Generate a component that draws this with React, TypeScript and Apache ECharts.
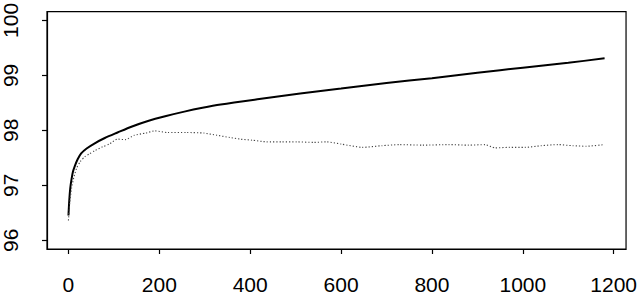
import React, { useEffect, useRef } from "react";
import * as echarts from "echarts";

const solidX = [0, 2, 4, 7, 10, 14, 20, 28, 40, 57, 80, 108, 140, 175, 215, 255, 295, 335, 420, 510, 600, 700, 800, 900, 1000, 1100, 1180];
const solidY = [96.45, 96.75, 96.95, 97.12, 97.25, 97.35, 97.47, 97.58, 97.67, 97.76, 97.86, 97.96, 98.07, 98.17, 98.26, 98.34, 98.41, 98.47, 98.57, 98.67, 98.76, 98.86, 98.95, 99.05, 99.14, 99.23, 99.31];

const dotX = [0, 3, 7, 12, 18, 26, 36, 46, 58, 75, 90, 108, 125, 145, 170, 190, 218, 260, 298, 327, 355, 378, 405, 436, 470, 502, 540, 567, 600, 647, 690, 728, 780, 837, 880, 917, 939, 970, 1005, 1040, 1077, 1110, 1140, 1179];
const dotY = [96.36, 96.7, 96.95, 97.15, 97.31, 97.43, 97.52, 97.57, 97.63, 97.7, 97.75, 97.84, 97.83, 97.91, 97.95, 97.99, 97.96, 97.96, 97.95, 97.91, 97.87, 97.84, 97.82, 97.79, 97.79, 97.79, 97.78, 97.79, 97.75, 97.69, 97.72, 97.74, 97.73, 97.74, 97.73, 97.74, 97.68, 97.69, 97.69, 97.72, 97.74, 97.72, 97.71, 97.74];

const xTicks = [0, 200, 400, 600, 800, 1000, 1200];
const yTicks = [96, 97, 98, 99, 100];

export default function App() {
  const ref = useRef<HTMLDivElement>(null);
  useEffect(() => {
    if (!ref.current) return;
    const chart = echarts.init(ref.current, undefined, { renderer: "svg" });
    const font = "'Liberation Sans', Arial, Helvetica, sans-serif";
    chart.setOption({
      animation: false,
      grid: {
        left: 45,
        right: 11,
        top: 7.5,
        bottom: 44,
        show: true,
        borderColor: "#000",
        borderWidth: 1.2,
        backgroundColor: "#fff",
      },
      xAxis: {
        type: "value",
        min: -47.2,
        max: 1227.2,
        splitLine: { show: false },
        axisLine: { show: true, onZero: false, lineStyle: { color: "#000", width: 1.2 } },
        axisTick: { show: true, length: 5, customValues: xTicks, lineStyle: { color: "#000", width: 1.2 } },
        axisLabel: {
          customValues: xTicks,
          formatter: (v: number) => String(v),
          margin: 25,
          color: "#000",
          fontSize: 21,
          fontFamily: font,
        },
      },
      yAxis: {
        type: "value",
        min: 95.84,
        max: 100.16,
        splitLine: { show: false },
        axisLine: { show: true, onZero: false, lineStyle: { color: "#000", width: 1.2 } },
        axisTick: { show: true, length: 5, customValues: yTicks, lineStyle: { color: "#000", width: 1.2 } },
        axisLabel: {
          customValues: yTicks,
          formatter: (v: number) => String(v),
          rotate: 90,
          margin: 26,
          color: "#000",
          fontSize: 21,
          fontFamily: font,
        },
      },
      series: [
        {
          type: "line",
          data: solidX.map((x, i) => [x, solidY[i]]),
          showSymbol: false,
          smooth: 0.3,
          lineStyle: { color: "#000", width: 2 },
        },
        {
          type: "line",
          data: dotX.map((x, i) => [x, dotY[i]]),
          showSymbol: false,
          smooth: 0.2,
          lineStyle: { color: "#444", width: 1.1, type: [1.2, 2] },
        },
      ],
    });
    return () => chart.dispose();
  }, []);
  return <div ref={ref} style={{ width: 640, height: 295, position: "absolute", left: 0, top: 0 }} />;
}
